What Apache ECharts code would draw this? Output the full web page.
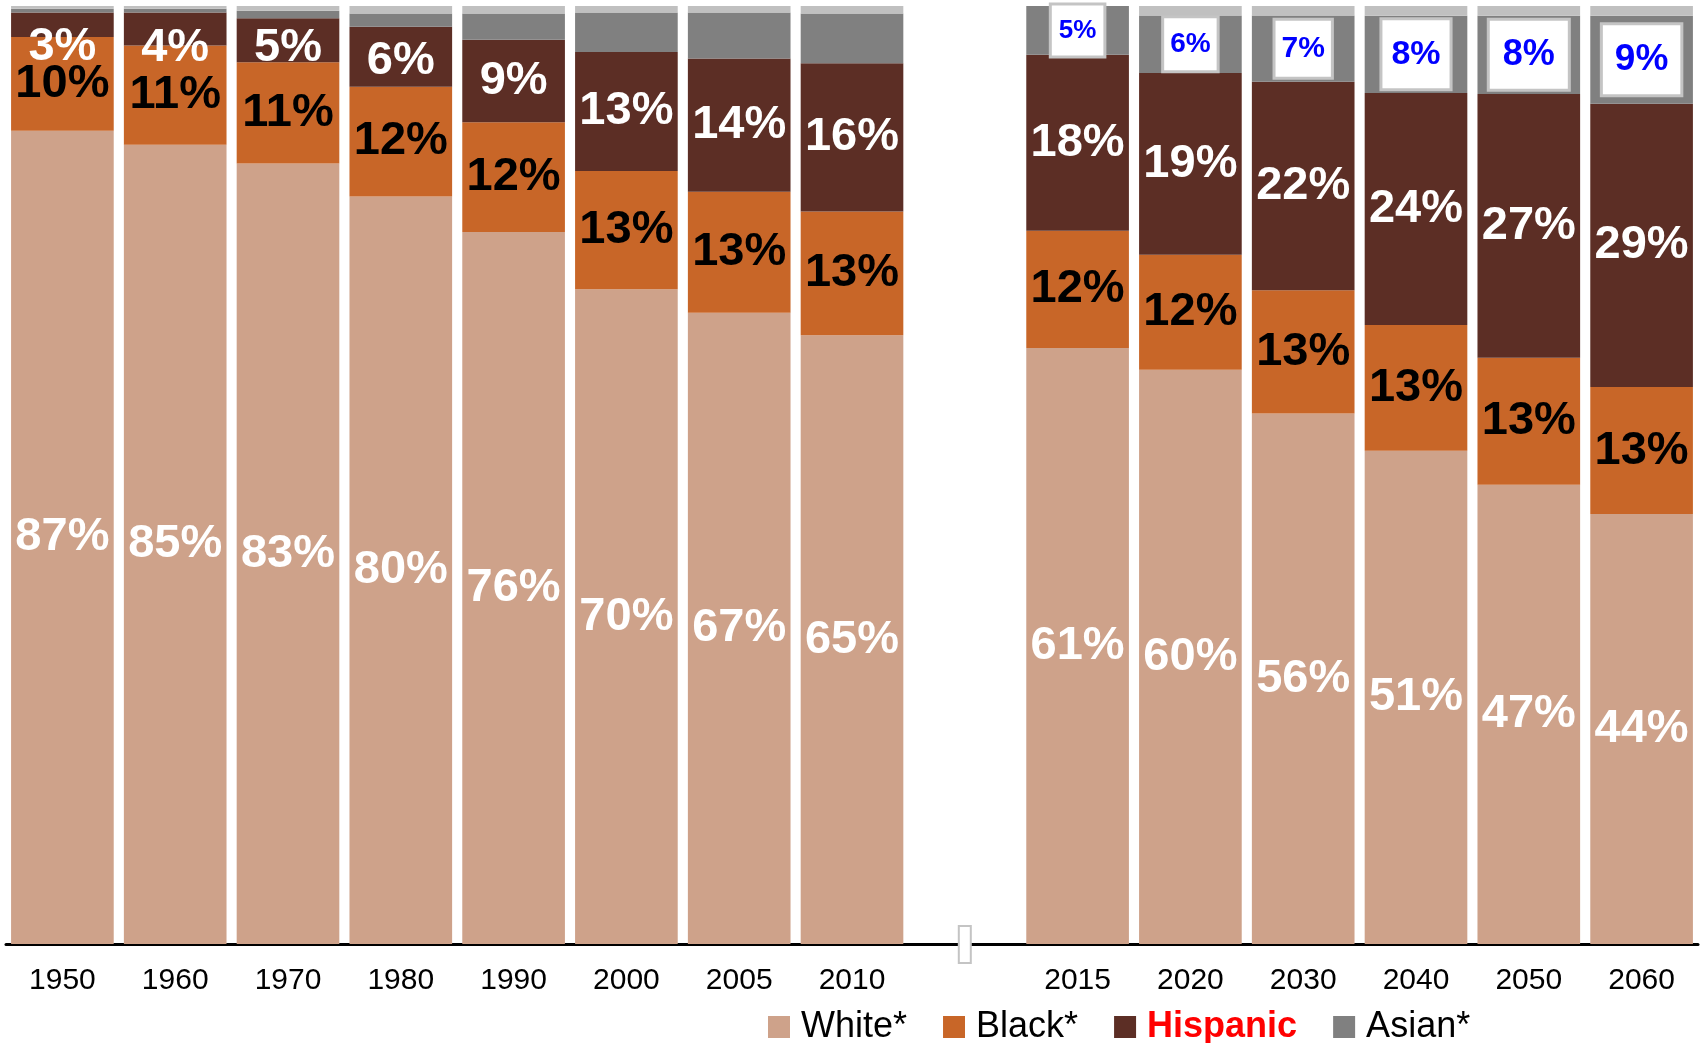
<!DOCTYPE html>
<html>
<head>
<meta charset="UTF-8">
<title>Population by race</title>
<script src="https://cdn.jsdelivr.net/npm/echarts@6/dist/echarts.min.js"></script>
<style>
  html, body { margin: 0; padding: 0; background: #fff; }
  #main { width: 1700px; height: 1043px; }
</style>
</head>
<body>
<div id="main"></div>
<script>
// '' is the empty slot between observed years and projections
var years    = ['1950', '1960', '1970', '1980', '1990', '2000', '2005', '2010', '', '2015', '2020', '2030', '2040', '2050', '2060'];
var white    = [86.7, 85.2, 83.2, 79.7, 75.9, 69.8, 67.3, 64.9, null, 61, 60, 56, 51, 47, 44];
var black    = [10.0, 10.6, 10.8, 11.7, 11.7, 12.6, 12.9, 13.2, null, 12, 12, 13, 13, 13, 13];
var hispanic = [2.6, 3.5, 4.7, 6.4, 8.8, 12.7, 14.2, 15.8, null, 18, 19, 22, 24, 27, 29];
var asian    = [0.4, 0.4, 0.8, 1.4, 2.8, 4.2, 4.9, 5.3, null, 5, 6, 7, 8, 8, 9];
var other    = [0.3, 0.3, 0.5, 0.8, 0.8, 0.7, 0.7, 0.8, null, 0, 1, 1, 1, 1, 1];

// style tweaks (not data)
var hispShift = [22, 19, 8, 4, 0, 0, 0, 0, 0, 0, 0, 0, 0, 0, 0];
var asianFont = [26, 28, 30, 34, 36, 37];
var asianPad  = [[12, 7], [12, 6], [13, 6], [17, 9], [16, 13], [16, 12]];

var totals = years.map(function (y, i) {
    if (white[i] == null) return null;
    return white[i] + black[i] + hispanic[i] + asian[i] + other[i];
});

function toItems(arr, extra) {
    return arr.map(function (v, i) {
        if (v == null) return null;
        var item = { value: v / totals[i] * 100, raw: v };
        if (extra) extra(item, i);
        return item;
    });
}

var bigLabel = {
    show: true,
    position: 'inside',
    fontFamily: 'Liberation Sans, Arial, sans-serif',
    fontWeight: 'bold',
    fontSize: 47,
    formatter: function (p) { return Math.round(p.data.raw) + '%'; }
};

var chart = echarts.init(document.getElementById('main'));
chart.setOption({
    animation: false,
    grid: { left: 6, right: 2, top: 6, bottom: 99 },
    legend: {
        left: 768,
        top: 1009,
        padding: 0,
        itemWidth: 22,
        itemHeight: 22,
        itemGap: 36,
        icon: 'rect',
        textStyle: {
            fontFamily: 'Liberation Sans, Arial, sans-serif',
            fontSize: 36,
            color: '#000',
            padding: [0, 0, 0, 6]
        },
        data: [
            { name: 'White*' },
            { name: 'Black*' },
            { name: 'Hispanic', textStyle: { color: '#ff0000', fontWeight: 'bold' } },
            { name: 'Asian*' }
        ]
    },
    xAxis: {
        type: 'category',
        data: years,
        axisLine: { lineStyle: { color: '#000', width: 3 } },
        axisTick: { show: false },
        axisLabel: {
            color: '#000',
            fontFamily: 'Liberation Sans, Arial, sans-serif',
            fontSize: 30,
            margin: 22
        }
    },
    yAxis: { type: 'value', min: 0, max: 100, show: false, splitLine: { show: false } },
    series: [
        {
            name: 'White*', type: 'bar', stack: 'all', barCategoryGap: '9%',
            itemStyle: { color: '#CEA28A' },
            label: Object.assign({}, bigLabel, { color: '#fff' }),
            data: toItems(white)
        },
        {
            name: 'Black*', type: 'bar', stack: 'all',
            itemStyle: { color: '#C86628' },
            label: Object.assign({}, bigLabel, { color: '#000' }),
            data: toItems(black)
        },
        {
            name: 'Hispanic', type: 'bar', stack: 'all',
            itemStyle: { color: '#5C2E25' },
            label: Object.assign({}, bigLabel, { color: '#fff' }),
            data: toItems(hispanic, function (item, i) {
                if (hispShift[i]) item.label = { offset: [0, hispShift[i]] };
            })
        },
        {
            name: 'Asian*', type: 'bar', stack: 'all',
            itemStyle: { color: '#808080' },
            label: {
                show: false,
                position: 'inside',
                fontFamily: 'Liberation Sans, Arial, sans-serif',
                fontWeight: 'bold',
                color: '#0000ff',
                backgroundColor: '#fff',
                borderColor: '#c4c4c4',
                borderWidth: 3,
                formatter: function (p) { return Math.round(p.data.raw) + '%'; }
            },
            data: toItems(asian, function (item, i) {
                var k = i - 9;
                if (k >= 0) {
                    item.label = {
                        show: true,
                        fontSize: asianFont[k],
                        lineHeight: asianFont[k],
                        padding: asianPad[k]
                    };
                }
            })
        },
        {
            name: 'Other', type: 'bar', stack: 'all',
            itemStyle: { color: '#C0C0C0' },
            data: toItems(other)
        }
    ]
});

// axis break marker on the empty slot
var bx = chart.convertToPixel({ xAxisIndex: 0 }, 8);
var by = chart.convertToPixel({ yAxisIndex: 0 }, 0);
chart.setOption({
    graphic: [{
        type: 'rect',
        shape: { x: bx - 6, y: by - 18, width: 12, height: 37 },
        style: { fill: '#fff', stroke: '#c4c4c4', lineWidth: 2 },
        z: 100
    }]
});
</script>
</body>
</html>
